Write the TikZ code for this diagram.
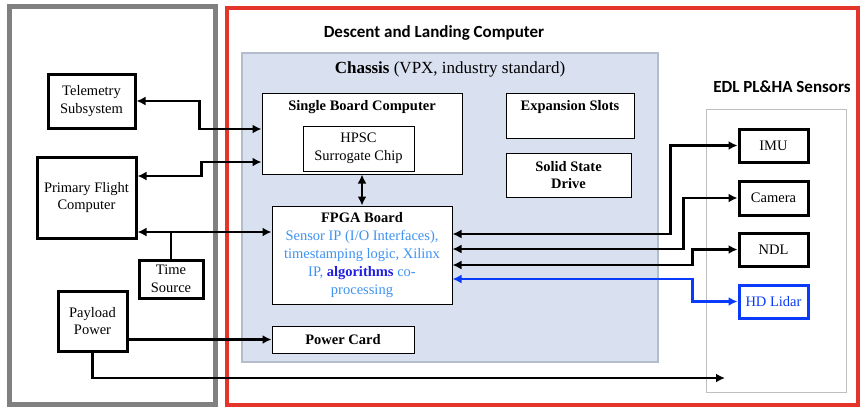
\documentclass[tikz,border=0pt]{standalone}
\usepackage{fontspec}
\setmainfont{Liberation Serif}
\newfontfamily\headfont{Carlito}
\usetikzlibrary{arrows.meta}

\definecolor{framegray}{HTML}{808080}
\definecolor{framered}{HTML}{E5352B}
\definecolor{chassisfill}{HTML}{D9E1F0}
\definecolor{chassisline}{HTML}{B3BCCB}
\definecolor{ipblue}{HTML}{3F93F2}
\definecolor{algoblue}{HTML}{1F1FE0}
\definecolor{lidarblue}{HTML}{0B3BFA}

\tikzset{
  unit/.style={draw,line width=3pt,fill=white,align=center,inner sep=0pt,font=\fontsize{14.5}{17.8}\selectfont},
  card/.style={draw,line width=1pt,fill=white,align=center,inner sep=0pt,font=\fontsize{14.5}{17.8}\selectfont},
  cardtitle/.style={font=\fontsize{14.5}{17.8}\selectfont\bfseries},
  link/.style={line width=2.8pt,{Latex[length=9pt,width=9pt]}-{Latex[length=9pt,width=9pt]}},
  feed/.style={line width=2.8pt,-{Latex[length=9pt,width=9pt]}},
  wire/.style={line width=2.8pt},
  heading/.style={font=\headfont\bfseries\fontsize{17}{20}\selectfont},
}

\begin{document}
\begin{tikzpicture}[x=1pt,y=-1pt]
    \useasboundingbox (0,0) rectangle (861,408);
    % frames
    \draw[framegray,line width=5pt] (9.5,6.5) rectangle (215,404.5);
    \draw[framered,line width=4pt] (226.5,7.5) rectangle (858,404.5);
    \node[heading] (dlc) at (434,33) {Descent and Landing Computer};
    \draw[chassisline,fill=chassisfill,line width=2pt] (242,53) rectangle (658,362);
    \node[font=\fontsize{17}{20}\selectfont] (chassis) at (450,69) {\textbf{Chassis} (VPX, industry standard)};
    \draw[gray!50,line width=0.8pt] (706,109) rectangle (846,392);
    \node[heading] (edl) at (782,87) {EDL PL\&HA Sensors};

    % left side units
    \node[unit,minimum width=87pt,minimum height=54pt] (tele) at (91.5,101) {Telemetry\\Subsystem};
    \node[unit,minimum width=99pt,minimum height=81pt] (pfc) at (86.5,197.5) {Primary Flight\\Computer};
    \node[unit,minimum width=64pt,minimum height=38pt] (time) at (171,279) {Time\\Source};
    \node[unit,minimum width=69pt,minimum height=60pt] (pay) at (92.5,321) {Payload\\Power};

    % chassis cards
    \node[card,minimum width=200pt,minimum height=81pt] (sbc) at (362,133.5) {};
    \node[cardtitle] (sbctitle) at (362,107) {Single Board Computer};
    \node[card,minimum width=111pt,minimum height=45pt] (hpsc) at (358.5,148.5) {HPSC\\Surrogate Chip};
    \node[card,minimum width=128pt,minimum height=45pt] (exp) at (570,115.5) {};
    \node[cardtitle] (exptitle) at (570,107) {Expansion Slots};
    \node[card,minimum width=125pt,minimum height=44pt,font=\fontsize{14.5}{17.8}\selectfont\bfseries] (ssd) at (568.5,175) {Solid State\\Drive};
    \node[card,minimum width=180pt,minimum height=98pt] (fpga) at (362,255) {\textbf{FPGA Board}\\\color{ipblue}Sensor IP (I/O Interfaces),\\\color{ipblue}timestamping logic, Xilinx\\\color{ipblue}IP, {\color{algoblue}\textbf{algorithms}} co-\\\color{ipblue}processing};
    \node[card,minimum width=142pt,minimum height=27pt,font=\fontsize{14.5}{17.8}\selectfont\bfseries] (power) at (343,339.5) {Power Card};

    % sensors
    \node[unit,minimum width=69pt,minimum height=33pt] (imu) at (773.5,145.5) {IMU};
    \node[unit,minimum width=69pt,minimum height=34pt] (cam) at (773.5,198) {Camera};
    \node[unit,minimum width=69pt,minimum height=33pt] (ndl) at (773.5,249.5) {NDL};
    \node[unit,minimum width=69pt,minimum height=33pt,draw=lidarblue,text=lidarblue] (lidar) at (773.5,301.5) {HD Lidar};

    % connectors
    \draw[link] (tele.east) -- ++(63,0) |- ([yshift=4.5pt]sbc.west);
    \draw[link] ([yshift=21.5pt]pfc.east) -- ++(64,0) |- ([yshift=-28.5pt]sbc.west);
    \coordinate (pf) at ([yshift=-34.5pt]pfc.east);
    \draw[link] (pf) -- (pf -| fpga.west);
    \draw[wire] (time.north) -- (time.north |- pf);
    \draw[feed] (pay.east |- power.west) -- (power.west);
    \coordinate (payend) at (725,378);
    \draw[feed] (pay.south) |- (payend);
    \draw[link] (sbc.south) -- (fpga.north);
    \draw[link] ([yshift=21pt]fpga.east) -- ++(218,0) |- (imu.west);
    \draw[link] ([yshift=6pt]fpga.east) -- ++(231,0) |- (cam.west);
    \draw[link] ([yshift=-10pt]fpga.east) -- ++(240,0) |- (ndl.west);
    \draw[link,lidarblue] ([yshift=-24pt]fpga.east) -- ++(240,0) |- (lidar.west);
\end{tikzpicture}
\end{document}
